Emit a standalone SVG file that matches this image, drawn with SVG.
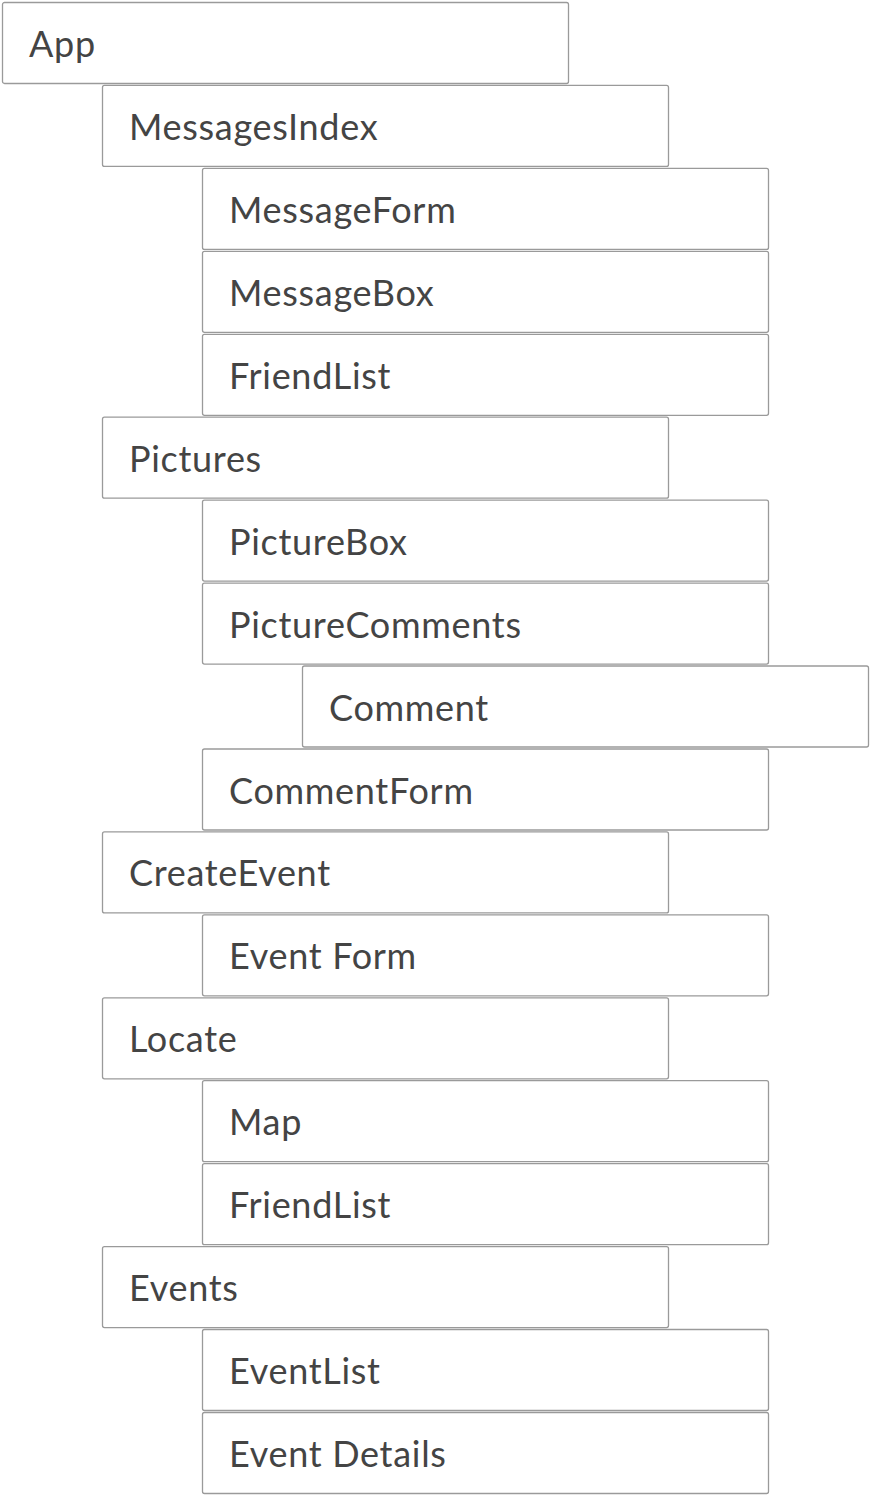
<svg xmlns="http://www.w3.org/2000/svg" width="870" height="1496" viewBox="0 0 870 1496">
<style>
.box{fill:#fff;stroke:#9a9a9a;stroke-width:1.3}
.lbl{font-family:Lato,"Noto Sans",sans-serif;font-size:36px;letter-spacing:0.7px;fill:#444}
</style>
<rect width="870" height="1496" fill="#fff"/>
<g id="n0"><rect class="box" x="2.5" y="2.5" width="566" height="81" rx="2"/><text class="lbl" x="29" y="57">App</text></g>
<g id="n1"><rect class="box" x="102.5" y="85.4" width="566" height="81" rx="2"/><text class="lbl" x="129" y="139.9">MessagesIndex</text></g>
<g id="n2"><rect class="box" x="202.5" y="168.4" width="566" height="81" rx="2"/><text class="lbl" x="229" y="222.9">MessageForm</text></g>
<g id="n3"><rect class="box" x="202.5" y="251.3" width="566" height="81" rx="2"/><text class="lbl" x="229" y="305.8">MessageBox</text></g>
<g id="n4"><rect class="box" x="202.5" y="334.3" width="566" height="81" rx="2"/><text class="lbl" x="229" y="388.8">FriendList</text></g>
<g id="n5"><rect class="box" x="102.5" y="417.2" width="566" height="81" rx="2"/><text class="lbl" x="129" y="471.7">Pictures</text></g>
<g id="n6"><rect class="box" x="202.5" y="500.1" width="566" height="81" rx="2"/><text class="lbl" x="229" y="554.6">PictureBox</text></g>
<g id="n7"><rect class="box" x="202.5" y="583.1" width="566" height="81" rx="2"/><text class="lbl" x="229" y="637.6">PictureComments</text></g>
<g id="n8"><rect class="box" x="302.5" y="666" width="566" height="81" rx="2"/><text class="lbl" x="329" y="720.5">Comment</text></g>
<g id="n9"><rect class="box" x="202.5" y="749" width="566" height="81" rx="2"/><text class="lbl" x="229" y="803.5">CommentForm</text></g>
<g id="n10"><rect class="box" x="102.5" y="831.9" width="566" height="81" rx="2"/><text class="lbl" x="129" y="886.4">CreateEvent</text></g>
<g id="n11"><rect class="box" x="202.5" y="914.8" width="566" height="81" rx="2"/><text class="lbl" x="229" y="969.3">Event Form</text></g>
<g id="n12"><rect class="box" x="102.5" y="997.8" width="566" height="81" rx="2"/><text class="lbl" x="129" y="1052.3">Locate</text></g>
<g id="n13"><rect class="box" x="202.5" y="1080.7" width="566" height="81" rx="2"/><text class="lbl" x="229" y="1135.2">Map</text></g>
<g id="n14"><rect class="box" x="202.5" y="1163.7" width="566" height="81" rx="2"/><text class="lbl" x="229" y="1218.2">FriendList</text></g>
<g id="n15"><rect class="box" x="102.5" y="1246.6" width="566" height="81" rx="2"/><text class="lbl" x="129" y="1301.1">Events</text></g>
<g id="n16"><rect class="box" x="202.5" y="1329.5" width="566" height="81" rx="2"/><text class="lbl" x="229" y="1384">EventList</text></g>
<g id="n17"><rect class="box" x="202.5" y="1412.5" width="566" height="81" rx="2"/><text class="lbl" x="229" y="1467">Event Details</text></g>
<g id="connectors"/>
</svg>
